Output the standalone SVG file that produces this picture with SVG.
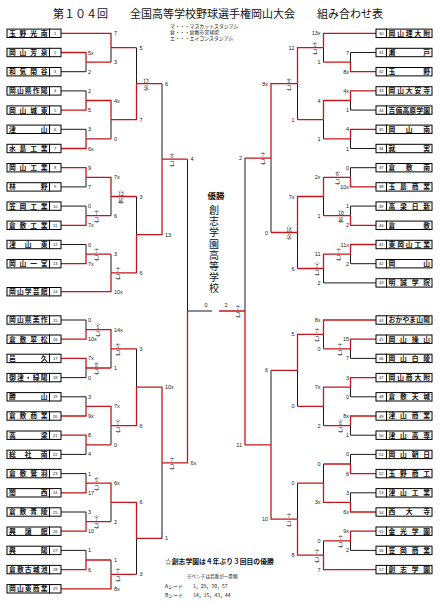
<svg xmlns="http://www.w3.org/2000/svg" width="442" height="611" viewBox="0 0 442 611">
<style>
.r{fill:none;stroke:#c4161c;stroke-width:1.3}
.k{fill:none;stroke:#1a1a1a;stroke-width:1}
.bx{fill:#fff;stroke:#000;stroke-width:1}
.nm{font-family:"Noto Sans CJK JP",sans-serif;font-size:6.8px;font-weight:700;fill:#111}
.no{font-family:"Liberation Sans",sans-serif;font-size:4px;text-anchor:middle;fill:#111}
.s{font-family:"Liberation Sans",sans-serif;font-size:5.5px;fill:#222}
.e{text-anchor:end}
.v{font-family:"Noto Sans CJK JP",sans-serif;font-size:5px;text-anchor:middle;fill:#222}
.t{font-family:"Noto Sans CJK JP",sans-serif;fill:#111}
.lg{font-family:"Liberation Sans","Noto Sans CJK JP",sans-serif;font-size:4.9px;fill:#111}
</style>
<rect width="442" height="611" fill="#fff"/>
<text class="t" x="53" y="18" font-size="11" textLength="330" lengthAdjust="spacingAndGlyphs">第１０４回　　全国高等学校野球選手権岡山大会　　組み合わせ表</text>
<g id="legend">
<text class="lg" x="170" y="28.3">マ・・・マスカットスタジアム</text>
<text class="lg" x="170" y="34">倉・・・倉敷市営球場</text>
<text class="lg" x="170" y="39.7">エ・・・エイコンスタジアム</text>
</g>
<g id="champion" class="t" fill="#333" text-anchor="middle">
<text x="216" y="199" font-size="8.5" font-weight="700">優勝</text>
<text x="214 214 214 214 214 214 214 214" y="214.2 225.3 236.4 247.5 258.6 269.7 280.8 291.9" font-size="10">創志学園高等学校</text>
</g>
<g id="notes" class="t">
<text x="165" y="564" font-size="6.8" font-weight="700">☆創志学園は４年ぶり３回目の優勝</text>
<text x="187" y="578" font-size="4.6">※ベンチは若番が一塁側</text>
<text x="165" y="587.5" font-size="5">Aシード　　1，29，30，57</text>
<text x="165" y="596.5" font-size="5">Bシード　　14，15，43，44</text>
</g>
<g id="connectors">
<path class="k" d="M61 71.7H86V62.1M111 62.1V47.7M61 90.9H86V100.5M61 129.3H86V138.9M111 138.9V119.7M136.5 47.7V83.7M61 186.9H86V177.3M61 206.1H86V215.7M111 215.7V196.5M61 244.5H86V254.1M111 254.1V272.9M136.5 196.5V234.7M162 83.7V159.2M187.5 159.2V311M187.5 311H212M61 320H86V329.6M61 377.6H86V368M111 368V348.8M61 396.8H86V406.4M61 454.4H86V444.8M111 444.8V425.6M136.5 348.8V387.2M61 473.6H86V483.2M61 512H86V521.6M111 521.6V502.4M61 550.4H86V560M111 560V574.4M136.5 574.4V538.4M162 538.4V462.8M376 52.5H350.5V62.1M323.5 62.1V47.7M376 110.1H350.5V100.5M376 148.5H350.5V138.9M323.5 138.9V119.7M297.5 119.7V83.7M376 167.7H350.5V177.3M376 206.1H350.5V215.7M323.5 215.7V196.5M376 263.7H350.5V254.1M376 282.9H323.5V268.5M297.5 268.5V232.5M271 232.5V158.1M245 158.1V311M376 358.4H350.5V348.8M323.5 348.8V334.4M376 396.8H350.5V387.2M376 435.2H350.5V425.6M323.5 425.6V406.4M297.5 406.4V370.4M376 454.4H350.5V464M376 492.8H350.5V502.4M323.5 464V483.2M376 550.4H350.5V540.8M323.5 540.8V555.2M297.5 483.2V519.2M271 370.4V444.8"/>
<path class="r" d="M61 52.5H86V62.1M61 33.3H111V47.7M86 62.1H111M61 110.1H86V100.5M61 148.5H86V138.9M86 100.5H111V119.7M86 138.9H111M111 47.7H136.5M111 119.7H136.5V83.7M61 167.7H86V177.3M61 225.3H86V215.7M86 177.3H111V196.5M86 215.7H111M61 263.7H86V254.1M86 254.1H111M61 291.7H111V272.9M111 196.5H136.5M111 272.9H136.5V234.7M136.5 83.7H162M136.5 234.7H162V159.2M162 159.2H187.5M162 462.8H187.5V311M219 311H245M61 339.2H86V329.6M61 358.4H86V368M86 329.6H111V348.8M86 368H111M61 416H86V406.4M61 435.2H86V444.8M86 406.4H111V425.6M86 444.8H111M111 348.8H136.5M111 425.6H136.5V387.2M61 492.8H86V483.2M61 531.2H86V521.6M86 483.2H111V502.4M86 521.6H111M61 569.6H86V560M86 560H111M61 588.8H111V574.4M111 502.4H136.5V538.4M111 574.4H136.5M136.5 387.2H162V462.8M136.5 538.4H162M376 71.7H350.5V62.1M376 33.3H323.5V47.7M350.5 62.1H323.5M376 90.9H350.5V100.5M376 129.3H350.5V138.9M350.5 100.5H323.5V119.7M350.5 138.9H323.5M323.5 47.7H297.5V83.7M323.5 119.7H297.5M376 186.9H350.5V177.3M376 225.3H350.5V215.7M350.5 177.3H323.5V196.5M350.5 215.7H323.5M376 244.5H350.5V254.1M350.5 254.1H323.5V268.5M323.5 196.5H297.5V232.5M323.5 268.5H297.5M297.5 83.7H271V158.1M297.5 232.5H271M271 158.1H245M271 444.8H245V311M376 339.2H350.5V348.8M376 320H323.5V334.4M350.5 348.8H323.5M376 377.6H350.5V387.2M376 416H350.5V425.6M350.5 387.2H323.5V406.4M350.5 425.6H323.5M323.5 334.4H297.5V370.4M323.5 406.4H297.5M376 473.6H350.5V464M376 512H350.5V502.4M350.5 464H323.5M350.5 502.4H323.5V483.2M376 531.2H350.5V540.8M350.5 540.8H323.5M376 569.6H323.5V555.2M323.5 483.2H297.5M323.5 555.2H297.5V519.2M297.5 370.4H271M297.5 519.2H271V444.8"/>
</g>
<g id="scores" class="s">
<text x="88" y="54.5">5x</text><text x="88" y="73.7">2</text>
<text x="114" y="35.3">7</text><text x="114" y="64.1">3</text>
<text x="88" y="92.9">2</text><text x="88" y="112.1">5</text>
<text x="88" y="131.3">3</text><text x="88" y="150.5">6x</text>
<text x="114" y="102.5">4x</text><text x="114" y="140.9">0</text>
<text x="139.5" y="49.7">5</text><text x="139.5" y="121.7">7</text>
<text x="88" y="169.7">9</text><text x="88" y="188.9">7</text>
<text x="88" y="208.1">0</text><text x="88" y="227.3">7x</text>
<text x="114" y="179.3">7x</text><text x="114" y="217.7">6</text>
<text x="88" y="246.5">0</text><text x="88" y="265.7">7x</text>
<text x="114" y="256.1">3</text><text x="114" y="293.7">10x</text>
<text x="139.5" y="198.5">3</text><text x="139.5" y="274.9">6</text>
<text x="165" y="85.7">6</text><text x="165" y="236.7">13</text>
<text x="190.5" y="161.2">4</text><text x="190.5" y="464.8">6x</text>
<text x="204.5" y="306.5">0</text><text x="224.5" y="306.5">2</text>
<text x="88" y="322">0</text><text x="88" y="341.2">10x</text>
<text x="88" y="360.4">7x</text><text x="88" y="379.6">0</text>
<text x="114" y="331.6">14x</text><text x="114" y="370">1</text>
<text x="88" y="398.8">3</text><text x="88" y="418">9x</text>
<text x="88" y="437.2">8</text><text x="88" y="456.4">4</text>
<text x="114" y="408.4">7x</text><text x="114" y="446.8">0</text>
<text x="139.5" y="350.8">3</text><text x="139.5" y="427.6">6</text>
<text x="88" y="475.6">1</text><text x="88" y="494.8">17</text>
<text x="88" y="514">3</text><text x="88" y="533.2">10</text>
<text x="114" y="485.2">6x</text><text x="114" y="523.6">2</text>
<text x="88" y="552.4">1</text><text x="88" y="571.6">6</text>
<text x="114" y="562">1</text><text x="114" y="590.8">8x</text>
<text x="139.5" y="504.4">6</text><text x="139.5" y="576.4">3</text>
<text x="165" y="389.2">10x</text><text x="165" y="540.4">1</text>
<g class="e">
<text x="349" y="54.5">7</text><text x="349" y="73.7">8x</text>
<text x="320.5" y="35.3">13x</text><text x="320.5" y="64.1">1</text>
<text x="349" y="92.9">4x</text><text x="349" y="112.1">1</text>
<text x="349" y="131.3">4</text><text x="349" y="150.5">1</text>
<text x="320.5" y="102.5">4</text><text x="320.5" y="140.9">1</text>
<text x="294.5" y="49.7">12</text><text x="294.5" y="121.7">1</text>
<text x="349" y="169.7">0</text><text x="349" y="188.9">10x</text>
<text x="349" y="208.1">1</text><text x="349" y="227.3">2</text>
<text x="320.5" y="179.3">2x</text><text x="320.5" y="217.7">1</text>
<text x="349" y="246.5">11x</text><text x="349" y="265.7">2</text>
<text x="320.5" y="256.1">11</text><text x="320.5" y="284.9">2</text>
<text x="294.5" y="198.5">7x</text><text x="294.5" y="270.5">6</text>
<text x="268" y="85.7">8x</text><text x="268" y="234.5">0</text>
<text x="242" y="160.1">2</text><text x="242" y="446.8">11</text>
<text x="349" y="341.2">15</text><text x="349" y="360.4">7</text>
<text x="320.5" y="322">8x</text><text x="320.5" y="350.8">0</text>
<text x="349" y="379.6">3</text><text x="349" y="398.8">0</text>
<text x="349" y="418">8x</text><text x="349" y="437.2">1</text>
<text x="320.5" y="389.2">7x</text><text x="320.5" y="427.6">2</text>
<text x="294.5" y="336.4">5</text><text x="294.5" y="408.4">0</text>
<text x="349" y="456.4">0</text><text x="349" y="475.6">6</text>
<text x="349" y="494.8">3</text><text x="349" y="514">6x</text>
<text x="320.5" y="466">0</text><text x="320.5" y="504.4">3x</text>
<text x="349" y="533.2">9x</text><text x="349" y="552.4">2</text>
<text x="320.5" y="542.8">0</text><text x="320.5" y="571.6">7</text>
<text x="294.5" y="485.2">0</text><text x="294.5" y="557.2">8</text>
<text x="268" y="372.4">6</text><text x="268" y="521.2">10</text>
</g>
</g>
<g id="innings" class="v">
<text x="146 144.6 147.4 146 146" y="78.5 82.7 82.7 89 93">︵13タ︶</text>
<text x="96.5 96.5 96.5 96.5" y="210.5 214.7 221 225">︵7コ︶</text>
<text x="121 119.6 122.4 121 121" y="191.3 195.5 195.5 201.8 205.8">︵12延︶</text>
<text x="96.5 96.5 96.5 96.5" y="248.9 253.1 259.4 263.4">︵7コ︶</text>
<text x="118 118 118 118" y="267.7 271.9 278.2 282.2">︵7コ︶</text>
<text x="172 172 172 172" y="154 158.2 164.5 168.5">︵8コ︶</text>
<text x="238 238 238 238" y="305.8 310 316.3 320.3">︵7コ︶</text>
<text x="98 98 98 98" y="324.4 328.6 334.9 338.9">︵5コ︶</text>
<text x="96.5 96.5 96.5 96.5" y="362.8 367 373.3 377.3">︵8コ︶</text>
<text x="118 118 118 118" y="343.6 347.8 354.1 358.1">︵5コ︶</text>
<text x="118 118 118 118" y="420.4 424.6 430.9 434.9">︵7コ︶</text>
<text x="96.5 96.5 96.5 96.5" y="478 482.2 488.5 492.5">︵5コ︶</text>
<text x="96.5 96.5 96.5 96.5" y="516.4 520.6 526.9 530.9">︵7コ︶</text>
<text x="118 118 118 118" y="569.2 573.4 579.7 583.7">︵7コ︶</text>
<text x="172 172 172 172" y="457.6 461.8 468.1 472.1">︵7コ︶</text>
<text x="315 315 315 315" y="42.5 46.7 53 57">︵5コ︶</text>
<text x="289 289 289 289" y="78.5 82.7 89 93">︵8コ︶</text>
<text x="337.5 337.5 337.5 337.5" y="172.1 176.3 182.6 186.6">︵6コ︶</text>
<text x="341 339.6 342.4 341 341" y="210.5 214.7 214.7 221 225">︵10延︶</text>
<text x="338.5 338.5 338.5 338.5" y="248.9 253.1 259.4 263.4">︵7コ︶</text>
<text x="317 317 317 317" y="263.3 267.5 273.8 277.8">︵7コ︶</text>
<text x="289 287.6 290.4 289 289" y="227.3 231.5 231.5 237.8 241.8">︵16タ︶</text>
<text x="263 263 263 263" y="152.9 157.1 163.4 167.4">︵7コ︶</text>
<text x="340 340 340 340" y="343.6 347.8 354.1 358.1">︵7コ︶</text>
<text x="317 317 317 317" y="329.2 333.4 339.7 343.7">︵7コ︶</text>
<text x="340.5 340.5 340.5 340.5" y="420.4 424.6 430.9 434.9">︵8コ︶</text>
<text x="340.5 340.5 340.5 340.5" y="535.6 539.8 546.1 550.1">︵7コ︶</text>
<text x="317 317 317 317" y="550 554.2 560.5 564.5">︵7コ︶</text>
<text x="289 289 289 289" y="514 518.2 524.5 528.5">︵7コ︶</text>
</g>
<g id="teams">
<g id="n1" transform="translate(0,33.3)"><rect class="bx" x="7" y="-4.2" width="42.5" height="8.4"/><rect class="bx" x="49.5" y="-4.2" width="11.5" height="8.4"/><text class="nm" x="9" y="2.4" textLength="38.5" lengthAdjust="spacing">玉野光南</text><text class="no" x="55.2" y="1.5">1</text></g>
<g id="n2" transform="translate(0,52.5)"><rect class="bx" x="7" y="-4.2" width="42.5" height="8.4"/><rect class="bx" x="49.5" y="-4.2" width="11.5" height="8.4"/><text class="nm" x="9" y="2.4" textLength="38.5" lengthAdjust="spacing">岡山芳泉</text><text class="no" x="55.2" y="1.5">2</text></g>
<g id="n3" transform="translate(0,71.7)"><rect class="bx" x="7" y="-4.2" width="42.5" height="8.4"/><rect class="bx" x="49.5" y="-4.2" width="11.5" height="8.4"/><text class="nm" x="9" y="2.4" textLength="38.5" lengthAdjust="spacing">和気閑谷</text><text class="no" x="55.2" y="1.5">3</text></g>
<g id="n4" transform="translate(0,90.9)"><rect class="bx" x="7" y="-4.2" width="42.5" height="8.4"/><rect class="bx" x="49.5" y="-4.2" width="11.5" height="8.4"/><text class="nm" x="9" y="2.4" textLength="38.5" lengthAdjust="spacing">岡山県作陽</text><text class="no" x="55.2" y="1.5">4</text></g>
<g id="n5" transform="translate(0,110.1)"><rect class="bx" x="7" y="-4.2" width="42.5" height="8.4"/><rect class="bx" x="49.5" y="-4.2" width="11.5" height="8.4"/><text class="nm" x="9" y="2.4" textLength="38.5" lengthAdjust="spacing">岡山城東</text><text class="no" x="55.2" y="1.5">5</text></g>
<g id="n6" transform="translate(0,129.3)"><rect class="bx" x="7" y="-4.2" width="42.5" height="8.4"/><rect class="bx" x="49.5" y="-4.2" width="11.5" height="8.4"/><text class="nm" x="9" y="2.4" textLength="38.5" lengthAdjust="spacing">津山</text><text class="no" x="55.2" y="1.5">6</text></g>
<g id="n7" transform="translate(0,148.5)"><rect class="bx" x="7" y="-4.2" width="42.5" height="8.4"/><rect class="bx" x="49.5" y="-4.2" width="11.5" height="8.4"/><text class="nm" x="9" y="2.4" textLength="38.5" lengthAdjust="spacing">水島工業</text><text class="no" x="55.2" y="1.5">7</text></g>
<g id="n8" transform="translate(0,167.7)"><rect class="bx" x="7" y="-4.2" width="42.5" height="8.4"/><rect class="bx" x="49.5" y="-4.2" width="11.5" height="8.4"/><text class="nm" x="9" y="2.4" textLength="38.5" lengthAdjust="spacing">岡山工業</text><text class="no" x="55.2" y="1.5">8</text></g>
<g id="n9" transform="translate(0,186.9)"><rect class="bx" x="7" y="-4.2" width="42.5" height="8.4"/><rect class="bx" x="49.5" y="-4.2" width="11.5" height="8.4"/><text class="nm" x="9" y="2.4" textLength="38.5" lengthAdjust="spacing">林野</text><text class="no" x="55.2" y="1.5">9</text></g>
<g id="n10" transform="translate(0,206.1)"><rect class="bx" x="7" y="-4.2" width="42.5" height="8.4"/><rect class="bx" x="49.5" y="-4.2" width="11.5" height="8.4"/><text class="nm" x="9" y="2.4" textLength="38.5" lengthAdjust="spacing">笠岡工業</text><text class="no" x="55.2" y="1.5">10</text></g>
<g id="n11" transform="translate(0,225.3)"><rect class="bx" x="7" y="-4.2" width="42.5" height="8.4"/><rect class="bx" x="49.5" y="-4.2" width="11.5" height="8.4"/><text class="nm" x="9" y="2.4" textLength="38.5" lengthAdjust="spacing">倉敷工業</text><text class="no" x="55.2" y="1.5">11</text></g>
<g id="n12" transform="translate(0,244.5)"><rect class="bx" x="7" y="-4.2" width="42.5" height="8.4"/><rect class="bx" x="49.5" y="-4.2" width="11.5" height="8.4"/><text class="nm" x="9" y="2.4" textLength="38.5" lengthAdjust="spacing">津山東</text><text class="no" x="55.2" y="1.5">12</text></g>
<g id="n13" transform="translate(0,263.7)"><rect class="bx" x="7" y="-4.2" width="42.5" height="8.4"/><rect class="bx" x="49.5" y="-4.2" width="11.5" height="8.4"/><text class="nm" x="9" y="2.4" textLength="38.5" lengthAdjust="spacing">岡山一宮</text><text class="no" x="55.2" y="1.5">13</text></g>
<g id="n14" transform="translate(0,291.7)"><rect class="bx" x="7" y="-4.2" width="42.5" height="8.4"/><rect class="bx" x="49.5" y="-4.2" width="11.5" height="8.4"/><text class="nm" x="9" y="2.4" textLength="38.5" lengthAdjust="spacing">岡山学芸館</text><text class="no" x="55.2" y="1.5">14</text></g>
<g id="n15" transform="translate(0,320)"><rect class="bx" x="7" y="-4.2" width="42.5" height="8.4"/><rect class="bx" x="49.5" y="-4.2" width="11.5" height="8.4"/><text class="nm" x="9" y="2.4" textLength="38.5" lengthAdjust="spacing">岡山県美作</text><text class="no" x="55.2" y="1.5">15</text></g>
<g id="n16" transform="translate(0,339.2)"><rect class="bx" x="7" y="-4.2" width="42.5" height="8.4"/><rect class="bx" x="49.5" y="-4.2" width="11.5" height="8.4"/><text class="nm" x="9" y="2.4" textLength="38.5" lengthAdjust="spacing">倉敷翠松</text><text class="no" x="55.2" y="1.5">16</text></g>
<g id="n17" transform="translate(0,358.4)"><rect class="bx" x="7" y="-4.2" width="42.5" height="8.4"/><rect class="bx" x="49.5" y="-4.2" width="11.5" height="8.4"/><text class="nm" x="9" y="2.4" textLength="38.5" lengthAdjust="spacing">邑久</text><text class="no" x="55.2" y="1.5">17</text></g>
<g id="n18" transform="translate(0,377.6)"><rect class="bx" x="7" y="-4.2" width="42.5" height="8.4"/><rect class="bx" x="49.5" y="-4.2" width="11.5" height="8.4"/><text class="nm" x="9" y="2.4" textLength="38.5" lengthAdjust="spacing">御津・緑陽</text><text class="no" x="55.2" y="1.5">18</text></g>
<g id="n19" transform="translate(0,396.8)"><rect class="bx" x="7" y="-4.2" width="42.5" height="8.4"/><rect class="bx" x="49.5" y="-4.2" width="11.5" height="8.4"/><text class="nm" x="9" y="2.4" textLength="38.5" lengthAdjust="spacing">勝山</text><text class="no" x="55.2" y="1.5">19</text></g>
<g id="n20" transform="translate(0,416)"><rect class="bx" x="7" y="-4.2" width="42.5" height="8.4"/><rect class="bx" x="49.5" y="-4.2" width="11.5" height="8.4"/><text class="nm" x="9" y="2.4" textLength="38.5" lengthAdjust="spacing">倉敷商業</text><text class="no" x="55.2" y="1.5">20</text></g>
<g id="n21" transform="translate(0,435.2)"><rect class="bx" x="7" y="-4.2" width="42.5" height="8.4"/><rect class="bx" x="49.5" y="-4.2" width="11.5" height="8.4"/><text class="nm" x="9" y="2.4" textLength="38.5" lengthAdjust="spacing">高梁</text><text class="no" x="55.2" y="1.5">21</text></g>
<g id="n22" transform="translate(0,454.4)"><rect class="bx" x="7" y="-4.2" width="42.5" height="8.4"/><rect class="bx" x="49.5" y="-4.2" width="11.5" height="8.4"/><text class="nm" x="9" y="2.4" textLength="38.5" lengthAdjust="spacing">総社南</text><text class="no" x="55.2" y="1.5">22</text></g>
<g id="n23" transform="translate(0,473.6)"><rect class="bx" x="7" y="-4.2" width="42.5" height="8.4"/><rect class="bx" x="49.5" y="-4.2" width="11.5" height="8.4"/><text class="nm" x="9" y="2.4" textLength="38.5" lengthAdjust="spacing">倉敷鷲羽</text><text class="no" x="55.2" y="1.5">23</text></g>
<g id="n24" transform="translate(0,492.8)"><rect class="bx" x="7" y="-4.2" width="42.5" height="8.4"/><rect class="bx" x="49.5" y="-4.2" width="11.5" height="8.4"/><text class="nm" x="9" y="2.4" textLength="38.5" lengthAdjust="spacing">関西</text><text class="no" x="55.2" y="1.5">24</text></g>
<g id="n25" transform="translate(0,512)"><rect class="bx" x="7" y="-4.2" width="42.5" height="8.4"/><rect class="bx" x="49.5" y="-4.2" width="11.5" height="8.4"/><text class="nm" x="9" y="2.4" textLength="38.5" lengthAdjust="spacing">倉敷青陵</text><text class="no" x="55.2" y="1.5">25</text></g>
<g id="n26" transform="translate(0,531.2)"><rect class="bx" x="7" y="-4.2" width="42.5" height="8.4"/><rect class="bx" x="49.5" y="-4.2" width="11.5" height="8.4"/><text class="nm" x="9" y="2.4" textLength="38.5" lengthAdjust="spacing">興譲館</text><text class="no" x="55.2" y="1.5">26</text></g>
<g id="n27" transform="translate(0,550.4)"><rect class="bx" x="7" y="-4.2" width="42.5" height="8.4"/><rect class="bx" x="49.5" y="-4.2" width="11.5" height="8.4"/><text class="nm" x="9" y="2.4" textLength="38.5" lengthAdjust="spacing">興陽</text><text class="no" x="55.2" y="1.5">27</text></g>
<g id="n28" transform="translate(0,569.6)"><rect class="bx" x="7" y="-4.2" width="42.5" height="8.4"/><rect class="bx" x="49.5" y="-4.2" width="11.5" height="8.4"/><text class="nm" x="9" y="2.4" textLength="38.5" lengthAdjust="spacing">倉敷古城池</text><text class="no" x="55.2" y="1.5">28</text></g>
<g id="n29" transform="translate(0,588.8)"><rect class="bx" x="7" y="-4.2" width="42.5" height="8.4"/><rect class="bx" x="49.5" y="-4.2" width="11.5" height="8.4"/><text class="nm" x="9" y="2.4" textLength="38.5" lengthAdjust="spacing">岡山東商業</text><text class="no" x="55.2" y="1.5">29</text></g>
<g id="n30" transform="translate(0,33.3)"><rect class="bx" x="376" y="-4.2" width="10.5" height="8.4"/><rect class="bx" x="386.5" y="-4.2" width="45.5" height="8.4"/><text class="nm" x="388.5" y="2.4" textLength="41.5" lengthAdjust="spacing">岡山理大附</text><text class="no" x="381.2" y="1.5">30</text></g>
<g id="n31" transform="translate(0,52.5)"><rect class="bx" x="376" y="-4.2" width="10.5" height="8.4"/><rect class="bx" x="386.5" y="-4.2" width="45.5" height="8.4"/><text class="nm" x="388.5" y="2.4" textLength="41.5" lengthAdjust="spacing">瀬戸</text><text class="no" x="381.2" y="1.5">31</text></g>
<g id="n32" transform="translate(0,71.7)"><rect class="bx" x="376" y="-4.2" width="10.5" height="8.4"/><rect class="bx" x="386.5" y="-4.2" width="45.5" height="8.4"/><text class="nm" x="388.5" y="2.4" textLength="41.5" lengthAdjust="spacing">玉野</text><text class="no" x="381.2" y="1.5">32</text></g>
<g id="n33" transform="translate(0,90.9)"><rect class="bx" x="376" y="-4.2" width="10.5" height="8.4"/><rect class="bx" x="386.5" y="-4.2" width="45.5" height="8.4"/><text class="nm" x="388.5" y="2.4" textLength="41.5" lengthAdjust="spacing">岡山大安寺</text><text class="no" x="381.2" y="1.5">33</text></g>
<g id="n34" transform="translate(0,110.1)"><rect class="bx" x="376" y="-4.2" width="10.5" height="8.4"/><rect class="bx" x="386.5" y="-4.2" width="45.5" height="8.4"/><text class="nm" x="388.5" y="2.4" textLength="41.5" lengthAdjust="spacing">吉備高原学園</text><text class="no" x="381.2" y="1.5">34</text></g>
<g id="n35" transform="translate(0,129.3)"><rect class="bx" x="376" y="-4.2" width="10.5" height="8.4"/><rect class="bx" x="386.5" y="-4.2" width="45.5" height="8.4"/><text class="nm" x="388.5" y="2.4" textLength="41.5" lengthAdjust="spacing">岡山南</text><text class="no" x="381.2" y="1.5">35</text></g>
<g id="n36" transform="translate(0,148.5)"><rect class="bx" x="376" y="-4.2" width="10.5" height="8.4"/><rect class="bx" x="386.5" y="-4.2" width="45.5" height="8.4"/><text class="nm" x="388.5" y="2.4" textLength="41.5" lengthAdjust="spacing">就実</text><text class="no" x="381.2" y="1.5">36</text></g>
<g id="n37" transform="translate(0,167.7)"><rect class="bx" x="376" y="-4.2" width="10.5" height="8.4"/><rect class="bx" x="386.5" y="-4.2" width="45.5" height="8.4"/><text class="nm" x="388.5" y="2.4" textLength="41.5" lengthAdjust="spacing">倉敷南</text><text class="no" x="381.2" y="1.5">37</text></g>
<g id="n38" transform="translate(0,186.9)"><rect class="bx" x="376" y="-4.2" width="10.5" height="8.4"/><rect class="bx" x="386.5" y="-4.2" width="45.5" height="8.4"/><text class="nm" x="388.5" y="2.4" textLength="41.5" lengthAdjust="spacing">玉島商業</text><text class="no" x="381.2" y="1.5">38</text></g>
<g id="n39" transform="translate(0,206.1)"><rect class="bx" x="376" y="-4.2" width="10.5" height="8.4"/><rect class="bx" x="386.5" y="-4.2" width="45.5" height="8.4"/><text class="nm" x="388.5" y="2.4" textLength="41.5" lengthAdjust="spacing">高梁日新</text><text class="no" x="381.2" y="1.5">39</text></g>
<g id="n40" transform="translate(0,225.3)"><rect class="bx" x="376" y="-4.2" width="10.5" height="8.4"/><rect class="bx" x="386.5" y="-4.2" width="45.5" height="8.4"/><text class="nm" x="388.5" y="2.4" textLength="41.5" lengthAdjust="spacing">倉敷</text><text class="no" x="381.2" y="1.5">40</text></g>
<g id="n41" transform="translate(0,244.5)"><rect class="bx" x="376" y="-4.2" width="10.5" height="8.4"/><rect class="bx" x="386.5" y="-4.2" width="45.5" height="8.4"/><text class="nm" x="388.5" y="2.4" textLength="41.5" lengthAdjust="spacing">東岡山工業</text><text class="no" x="381.2" y="1.5">41</text></g>
<g id="n42" transform="translate(0,263.7)"><rect class="bx" x="376" y="-4.2" width="10.5" height="8.4"/><rect class="bx" x="386.5" y="-4.2" width="45.5" height="8.4"/><text class="nm" x="388.5" y="2.4" textLength="41.5" lengthAdjust="spacing">岡山</text><text class="no" x="381.2" y="1.5">42</text></g>
<g id="n43" transform="translate(0,282.9)"><rect class="bx" x="376" y="-4.2" width="10.5" height="8.4"/><rect class="bx" x="386.5" y="-4.2" width="45.5" height="8.4"/><text class="nm" x="388.5" y="2.4" textLength="41.5" lengthAdjust="spacing">明誠学院</text><text class="no" x="381.2" y="1.5">43</text></g>
<g id="n44" transform="translate(0,320)"><rect class="bx" x="376" y="-4.2" width="10.5" height="8.4"/><rect class="bx" x="386.5" y="-4.2" width="45.5" height="8.4"/><text class="nm" x="388.5" y="2.4" textLength="41.5" lengthAdjust="spacing">おかやま山陽</text><text class="no" x="381.2" y="1.5">44</text></g>
<g id="n45" transform="translate(0,339.2)"><rect class="bx" x="376" y="-4.2" width="10.5" height="8.4"/><rect class="bx" x="386.5" y="-4.2" width="45.5" height="8.4"/><text class="nm" x="388.5" y="2.4" textLength="41.5" lengthAdjust="spacing">岡山操山</text><text class="no" x="381.2" y="1.5">45</text></g>
<g id="n46" transform="translate(0,358.4)"><rect class="bx" x="376" y="-4.2" width="10.5" height="8.4"/><rect class="bx" x="386.5" y="-4.2" width="45.5" height="8.4"/><text class="nm" x="388.5" y="2.4" textLength="41.5" lengthAdjust="spacing">岡山白陵</text><text class="no" x="381.2" y="1.5">46</text></g>
<g id="n47" transform="translate(0,377.6)"><rect class="bx" x="376" y="-4.2" width="10.5" height="8.4"/><rect class="bx" x="386.5" y="-4.2" width="45.5" height="8.4"/><text class="nm" x="388.5" y="2.4" textLength="41.5" lengthAdjust="spacing">岡山商大附</text><text class="no" x="381.2" y="1.5">47</text></g>
<g id="n48" transform="translate(0,396.8)"><rect class="bx" x="376" y="-4.2" width="10.5" height="8.4"/><rect class="bx" x="386.5" y="-4.2" width="45.5" height="8.4"/><text class="nm" x="388.5" y="2.4" textLength="41.5" lengthAdjust="spacing">倉敷天城</text><text class="no" x="381.2" y="1.5">48</text></g>
<g id="n49" transform="translate(0,416)"><rect class="bx" x="376" y="-4.2" width="10.5" height="8.4"/><rect class="bx" x="386.5" y="-4.2" width="45.5" height="8.4"/><text class="nm" x="388.5" y="2.4" textLength="41.5" lengthAdjust="spacing">津山商業</text><text class="no" x="381.2" y="1.5">49</text></g>
<g id="n50" transform="translate(0,435.2)"><rect class="bx" x="376" y="-4.2" width="10.5" height="8.4"/><rect class="bx" x="386.5" y="-4.2" width="45.5" height="8.4"/><text class="nm" x="388.5" y="2.4" textLength="41.5" lengthAdjust="spacing">津山高専</text><text class="no" x="381.2" y="1.5">50</text></g>
<g id="n51" transform="translate(0,454.4)"><rect class="bx" x="376" y="-4.2" width="10.5" height="8.4"/><rect class="bx" x="386.5" y="-4.2" width="45.5" height="8.4"/><text class="nm" x="388.5" y="2.4" textLength="41.5" lengthAdjust="spacing">岡山朝日</text><text class="no" x="381.2" y="1.5">51</text></g>
<g id="n52" transform="translate(0,473.6)"><rect class="bx" x="376" y="-4.2" width="10.5" height="8.4"/><rect class="bx" x="386.5" y="-4.2" width="45.5" height="8.4"/><text class="nm" x="388.5" y="2.4" textLength="41.5" lengthAdjust="spacing">玉野商工</text><text class="no" x="381.2" y="1.5">52</text></g>
<g id="n53" transform="translate(0,492.8)"><rect class="bx" x="376" y="-4.2" width="10.5" height="8.4"/><rect class="bx" x="386.5" y="-4.2" width="45.5" height="8.4"/><text class="nm" x="388.5" y="2.4" textLength="41.5" lengthAdjust="spacing">津山工業</text><text class="no" x="381.2" y="1.5">53</text></g>
<g id="n54" transform="translate(0,512)"><rect class="bx" x="376" y="-4.2" width="10.5" height="8.4"/><rect class="bx" x="386.5" y="-4.2" width="45.5" height="8.4"/><text class="nm" x="388.5" y="2.4" textLength="41.5" lengthAdjust="spacing">西大寺</text><text class="no" x="381.2" y="1.5">54</text></g>
<g id="n55" transform="translate(0,531.2)"><rect class="bx" x="376" y="-4.2" width="10.5" height="8.4"/><rect class="bx" x="386.5" y="-4.2" width="45.5" height="8.4"/><text class="nm" x="388.5" y="2.4" textLength="41.5" lengthAdjust="spacing">金光学園</text><text class="no" x="381.2" y="1.5">55</text></g>
<g id="n56" transform="translate(0,550.4)"><rect class="bx" x="376" y="-4.2" width="10.5" height="8.4"/><rect class="bx" x="386.5" y="-4.2" width="45.5" height="8.4"/><text class="nm" x="388.5" y="2.4" textLength="41.5" lengthAdjust="spacing">笠岡商業</text><text class="no" x="381.2" y="1.5">56</text></g>
<g id="n57" transform="translate(0,569.6)"><rect class="bx" x="376" y="-4.2" width="10.5" height="8.4"/><rect class="bx" x="386.5" y="-4.2" width="45.5" height="8.4"/><text class="nm" x="388.5" y="2.4" textLength="41.5" lengthAdjust="spacing">創志学園</text><text class="no" x="381.2" y="1.5">57</text></g>
</g>
</svg>
